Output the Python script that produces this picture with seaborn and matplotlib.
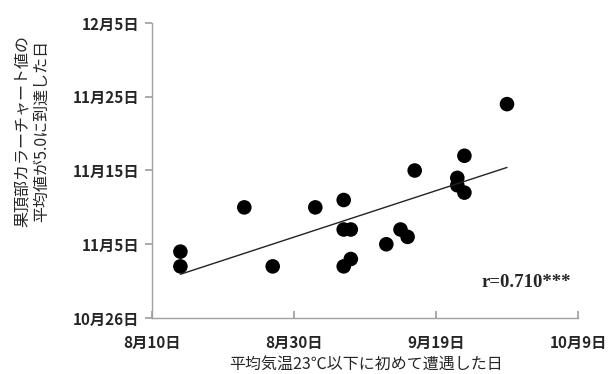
import matplotlib
matplotlib.use("Agg")
import matplotlib.pyplot as plt
import seaborn as sns
import pandas as pd
import numpy as np

# Data (dates; year arbitrary)
first_cool_day = ["08-14", "08-14", "08-23", "08-27", "09-02", "09-06", "09-06", "09-07",
                  "09-06", "09-07", "09-12", "09-14", "09-15", "09-16", "09-22", "09-22",
                  "09-23", "09-23", "09-29"]
reach_day = ["11-04", "11-02", "11-10", "11-02", "11-10", "11-11", "11-07", "11-07",
             "11-02", "11-03", "11-05", "11-07", "11-06", "11-15", "11-14", "11-13",
             "11-17", "11-12", "11-24"]
x_ticks = ["08-10", "08-30", "09-19", "10-09"]
x_tick_labels = ["8月10日", "8月30日", "9月19日", "10月9日"]
y_ticks = ["10-26", "11-05", "11-15", "11-25", "12-05"]
y_tick_labels = ["10月26日", "11月5日", "11月15日", "11月25日", "12月5日"]
r_text = "r=0.710***"

def to_day(md, base):
    return (pd.Timestamp("2000-" + md) - pd.Timestamp("2000-" + base)).days

xbase, ybase = "08-10", "10-26"
df = pd.DataFrame({
    "x": [to_day(d, xbase) for d in first_cool_day],
    "y": [to_day(d, ybase) for d in reach_day],
})

sns.set_theme(style="white")
plt.rcParams["font.family"] = ["Noto Sans CJK JP", "DejaVu Sans"]

fig = plt.figure(figsize=(6.10, 3.74), dpi=100)
ax = fig.add_axes([152/610, 1-318/374, (578-152)/610, (318-23)/374])

sns.regplot(data=df, x="x", y="y", ax=ax, ci=None, truncate=True,
            scatter_kws=dict(s=110, color="black", edgecolor="none", alpha=1),
            line_kws=dict(color="#222222", lw=1.0))

ax.set_xlim(0, 60)
ax.set_ylim(0, 40)
ax.set_xticks([to_day(d, xbase) for d in x_ticks])
ax.set_xticklabels(x_tick_labels, fontsize=11, fontweight="bold")
ax.set_yticks([to_day(d, ybase) for d in y_ticks])
ax.set_yticklabels(y_tick_labels, fontsize=11, fontweight="bold")
ax.set_xlabel("")
ax.set_ylabel("")
for s in ["top", "right"]:
    ax.spines[s].set_visible(False)
for s in ["left", "bottom"]:
    ax.spines[s].set_color("#a0a0a0")
    ax.spines[s].set_linewidth(1.0)
ax.tick_params(axis="x", direction="in", length=5, color="#a0a0a0", pad=12, bottom=True)
ax.tick_params(axis="y", direction="out", length=5, color="#a0a0a0", left=True, pad=4)

ax.text(0.983, 0.12, r_text, transform=ax.transAxes, ha="right", va="center",
        fontsize=13.5, fontweight="bold", family="Liberation Serif")

fig.text(366/610, 1-364/374, "平均気温23℃以下に初めて遭遇した日", ha="center", va="center",
         fontsize=11.5)
fig.text(32/610, 1-131/374, "果頂部カラーチャート値の\n平均値が5.0に到達した日", ha="center",
         va="center", rotation=90, fontsize=11.5, linespacing=1.2)

fig.savefig("out.png", dpi=100)
